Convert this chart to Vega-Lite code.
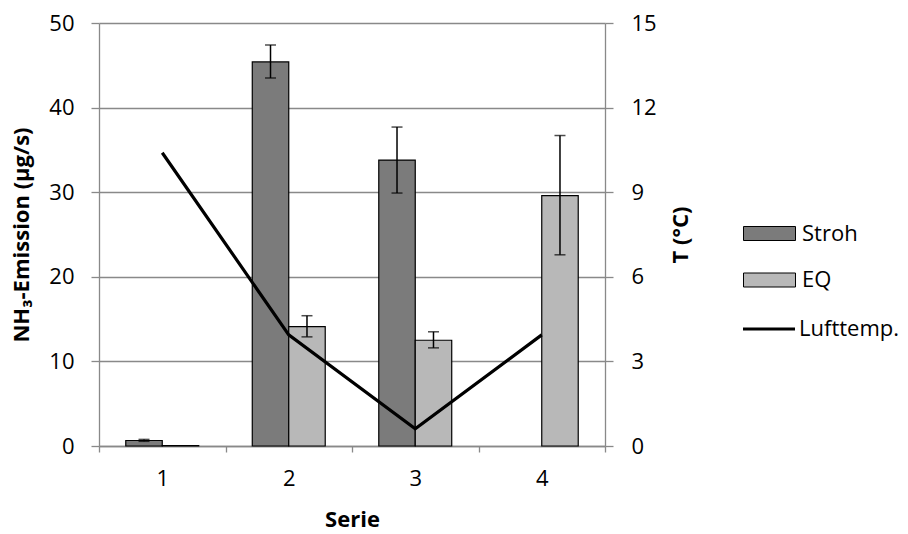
{
  "$schema": "https://vega.github.io/schema/vega-lite/v6.json",
  "width": 506,
  "height": 423,
  "autosize": {"type": "none"},
  "padding": {"left": 99, "top": 23, "right": 303, "bottom": 88},
  "background": "white",
  "config": {
    "font": "Open Sans",
    "view": {"stroke": null},
    "axis": {
      "labelFont": "Open Sans",
      "titleFont": "Open Sans",
      "labelFontSize": 22,
      "titleFontSize": 22,
      "labelColor": "#000000",
      "titleColor": "#000000",
      "titleFontWeight": "bold",
      "domainColor": "#898989",
      "tickColor": "#898989",
      "gridColor": "#898989",
      "domainWidth": 1.3,
      "tickWidth": 1.3,
      "gridWidth": 1.3
    },
    "legend": {"labelFont": "Open Sans", "labelFontSize": 22, "labelColor": "#000000"}
  },
  "datasets": {
    "bars": [
      {"serie": "1", "typ": "Stroh", "value": 0.65, "lo": 0.55, "hi": 0.78},
      {"serie": "1", "typ": "EQ", "value": 0.05, "lo": null, "hi": null},
      {"serie": "2", "typ": "Stroh", "value": 45.4, "lo": 43.5, "hi": 47.4},
      {"serie": "2", "typ": "EQ", "value": 14.1, "lo": 12.9, "hi": 15.4},
      {"serie": "3", "typ": "Stroh", "value": 33.8, "lo": 29.9, "hi": 37.7},
      {"serie": "3", "typ": "EQ", "value": 12.5, "lo": 11.6, "hi": 13.5},
      {"serie": "4", "typ": "EQ", "value": 29.6, "lo": 22.6, "hi": 36.7}
    ],
    "temp": [
      {"serie": "1", "temp": 10.4},
      {"serie": "2", "temp": 3.94},
      {"serie": "3", "temp": 0.61},
      {"serie": "4", "temp": 3.94}
    ]
  },
  "layer": [
    {
      "data": {"name": "bars"},
      "encoding": {
        "x": {
          "field": "serie",
          "type": "ordinal",
          "scale": {"domain": ["1", "2", "3", "4"], "paddingInner": 0, "paddingOuter": 0},
          "axis": {
            "title": "Serie",
            "labelAngle": 0,
            "tickBand": "extent",
            "grid": false,
            "tickSize": 6,
            "labelPadding": 16,
            "titlePadding": 20
          }
        },
        "xOffset": {
          "field": "typ",
          "type": "nominal",
          "scale": {"domain": ["Stroh", "EQ"], "paddingInner": 0, "paddingOuter": 0.734}
        }
      },
      "layer": [
        {
          "mark": {"type": "bar", "stroke": "#000000", "strokeWidth": 1.2},
          "encoding": {
            "y": {
              "field": "value",
              "type": "quantitative",
              "scale": {"domain": [0, 50], "nice": false},
              "axis": {
                "title": "NH₃-Emission (µg/s)",
                "values": [0, 10, 20, 30, 40, 50],
                "grid": true,
                "tickSize": 8,
                "labelPadding": 17,
                "titlePadding": 15
              }
            },
            "fill": {
              "field": "typ",
              "type": "nominal",
              "scale": {"domain": ["Stroh", "EQ"], "range": ["#7b7b7b", "#b8b8b8"]},
              "legend": {
                "title": null,
                "orient": "none",
                "legendX": 650,
                "legendY": 190,
                "padding": 0,
                "rowPadding": 14.5,
                "labelOffset": 12,
                "symbolSize": 1600,
                "symbolType": "M-1.3,-0.35H1.3V0.35H-1.3Z",
                "symbolStrokeColor": "#000000",
                "symbolStrokeWidth": 1,
                "symbolOpacity": 1
              }
            }
          }
        },
        {
          "mark": {"type": "rule", "color": "#000000", "strokeWidth": 1.5},
          "encoding": {
            "y": {"field": "lo", "type": "quantitative", "scale": {"domain": [0, 50], "nice": false}},
            "y2": {"field": "hi"}
          }
        },
        {
          "mark": {"type": "tick", "color": "#000000", "size": 11, "thickness": 1.5},
          "encoding": {
            "y": {"field": "hi", "type": "quantitative", "scale": {"domain": [0, 50], "nice": false}}
          }
        },
        {
          "mark": {"type": "tick", "color": "#000000", "size": 11, "thickness": 1.5},
          "encoding": {
            "y": {"field": "lo", "type": "quantitative", "scale": {"domain": [0, 50], "nice": false}}
          }
        }
      ]
    },
    {
      "data": {"name": "temp"},
      "mark": {"type": "line", "strokeWidth": 3.2},
      "encoding": {
        "x": {"field": "serie", "type": "ordinal", "title": "Serie"},
        "y": {
          "field": "temp",
          "type": "quantitative",
          "scale": {"domain": [0, 15], "nice": false},
          "axis": {
            "orient": "right",
            "title": "T (°C)",
            "titleAngle": 270,
            "values": [0, 3, 6, 9, 12, 15],
            "grid": false,
            "tickSize": 8,
            "labelPadding": 18,
            "titlePadding": 36
          }
        },
        "stroke": {
          "datum": "Lufttemp.",
          "scale": {"domain": ["Lufttemp."], "range": ["#000000"]},
          "legend": {
            "title": null,
            "orient": "none",
            "legendX": 648,
            "legendY": 284,
            "padding": 0,
            "labelOffset": 8,
            "symbolSize": 1600,
            "symbolType": "M-1.3,0H1.3",
            "symbolStrokeWidth": 3.2,
            "symbolStrokeColor": "#000000",
            "symbolOpacity": 1
          }
        }
      }
    }
  ],
  "resolve": {"scale": {"y": "independent"}, "axis": {"y": "independent"}}
}
